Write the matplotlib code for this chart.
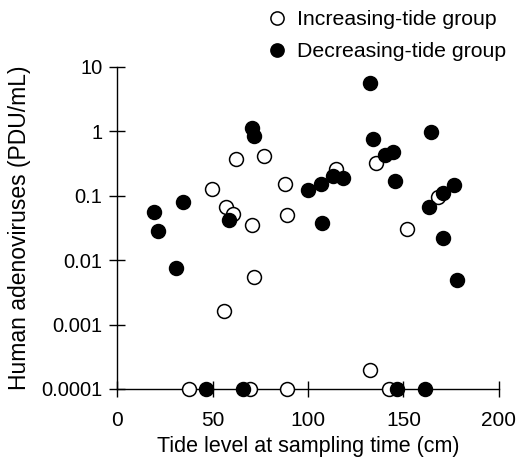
import matplotlib
matplotlib.use("Agg")
import matplotlib.pyplot as plt
from matplotlib.lines import Line2D

# increasing-tide group (open circles)
inc_x = [37.8, 49.6, 56.0, 56.9, 60.6, 62.3, 69.6, 70.5, 71.9, 77.0,
         88.0, 89.2, 89.2, 114.7, 132.5, 135.6, 142.4, 152.0, 168.2]
inc_y = [1e-4, 0.126, 0.0016, 0.066, 0.052, 0.377, 1e-4, 0.035, 0.0055, 0.41,
         0.152, 0.050, 1e-4, 0.26, 0.0002, 0.32, 1e-4, 0.030, 0.097]

# decreasing-tide group (filled circles)
dec_x = [19.4, 21.6, 30.9, 34.4, 46.6, 58.8, 66.1, 70.5, 71.7, 100.0,
         106.6, 107.2, 113.3, 118.1, 132.5, 133.8, 140.3, 144.3, 145.5, 146.7,
         161.3, 163.5, 164.2, 170.6, 170.8, 176.4, 177.8]
dec_y = [0.057, 0.028, 0.0075, 0.079, 1e-4, 0.042, 1e-4, 1.12, 0.86, 0.125,
         0.15, 0.038, 0.20, 0.19, 5.7, 0.75, 0.43, 0.48, 0.17, 1e-4,
         1e-4, 0.066, 0.97, 0.022, 0.11, 0.147, 0.005]

xticks = [0, 50, 100, 150, 200]
yticks = [1e-4, 1e-3, 1e-2, 1e-1, 1, 10]
ytick_labels = ['0.0001', '0.001', '0.01', '0.1', '1', '10']

plt.rcParams['font.family'] = ['Liberation Sans', 'DejaVu Sans']

fig = plt.figure(figsize=(5.18, 4.61), dpi=100)
ax = fig.add_axes([0.2259, 0.1562, 0.7374, 0.6985])

ax.scatter(inc_x, inc_y, s=100, facecolors='white', edgecolors='black',
           linewidths=1.1, zorder=3, clip_on=False)
ax.scatter(dec_x, dec_y, s=100, facecolors='black', edgecolors='black',
           linewidths=1.1, zorder=4, clip_on=False)

ax.set_yscale('log')
ax.set_xlim(0, 200)
ax.set_ylim(1e-4, 10)
ax.set_xticks(xticks)
ax.set_yticks(yticks)
ax.set_yticklabels(ytick_labels)
ax.minorticks_off()

for s in ['top', 'right']:
    ax.spines[s].set_visible(False)
for s in ['left', 'bottom']:
    ax.spines[s].set_linewidth(1.0)

ax.tick_params(axis='both', direction='inout', length=11, width=1.0)
ax.tick_params(axis='x', labelsize=15, pad=10)
ax.tick_params(axis='y', labelsize=14.5, pad=5)

ax.set_xlabel('Tide level at sampling time (cm)', fontsize=15.5, labelpad=4.5)
ax.set_ylabel('Human adenoviruses (PDU/mL)', fontsize=16.5, labelpad=7)

handles = [Line2D([], [], ls='none', marker='o', ms=9.5, mfc='white', mec='black', mew=1.1),
           Line2D([], [], ls='none', marker='o', ms=9.5, mfc='black', mec='black', mew=1.1)]
fig.legend(handles, ['Increasing-tide group', 'Decreasing-tide group'],
           loc='upper left', bbox_to_anchor=(0.4765, 1.019), frameon=False,
           fontsize=15.3, handlelength=1.0, handletextpad=0.45, labelspacing=0.6)

fig.savefig('out.png', dpi=100)
